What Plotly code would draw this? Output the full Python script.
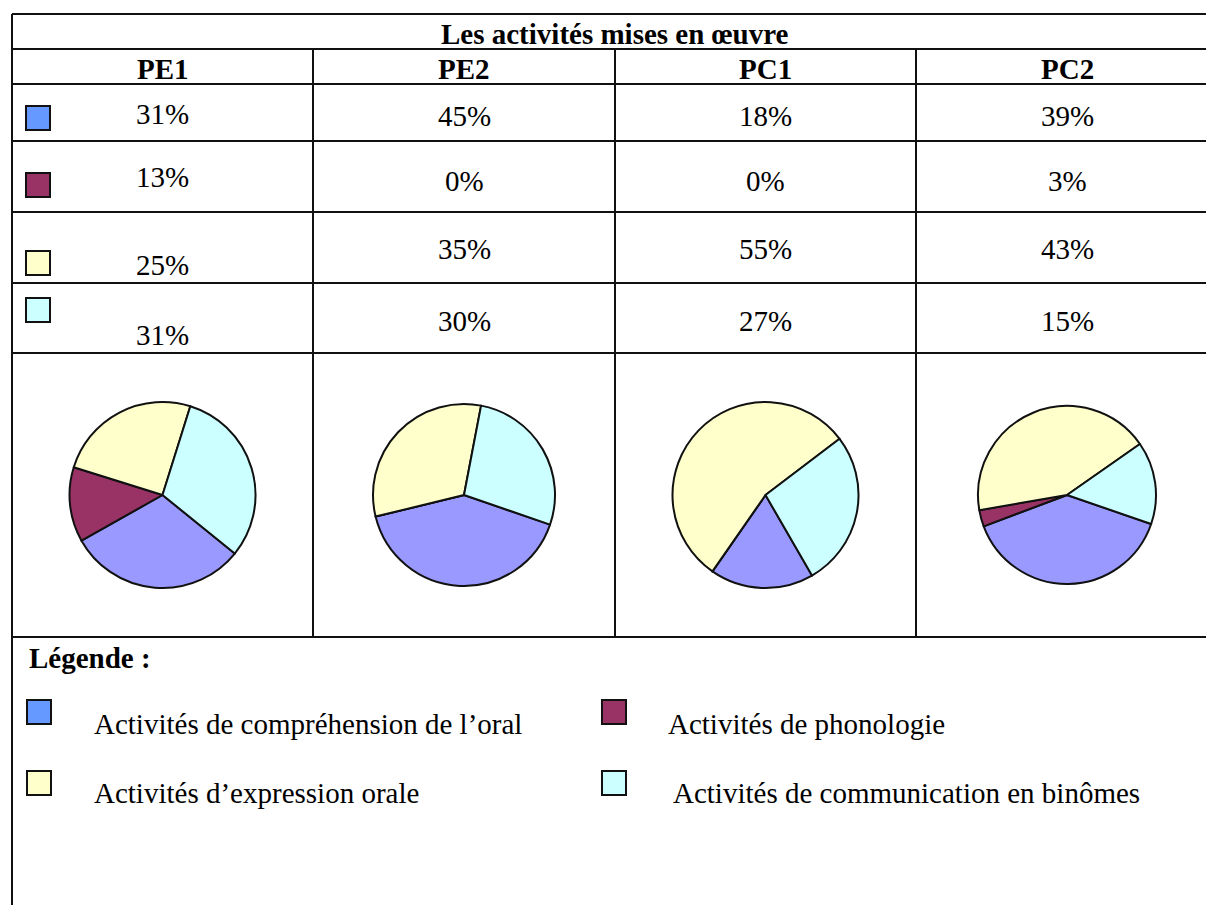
import plotly.graph_objects as go

GROUPS = ["PE1", "PE2", "PC1", "PC2"]
ACTIVITIES = [
    "Activités de compréhension de l’oral",
    "Activités de phonologie",
    "Activités d’expression orale",
    "Activités de communication en binômes",
]
COMPREHENSION = [31, 45, 18, 39]
PHONOLOGIE = [13, 0, 0, 3]
EXPRESSION = [25, 35, 55, 43]
COMMUNICATION = [31, 30, 27, 15]

TITLE = "Les activités mises en œuvre"
LEGEND_TITLE = "Légende :"

# styling
W, H = 1206, 905
FONT = "Liberation Serif, Times New Roman, serif"
FONT_SIZE = 29
SWATCH = ["#6699FF", "#993366", "#FFFFCC", "#CCFFFF"]
PIE_COLORS = ["#9999FF", "#993366", "#FFFFCC", "#CCFFFF"]
LINE = "#111111"

COL_X = [12, 313, 615, 916, 1218]
ROW_Y = [14, 49, 84, 141, 212, 283, 353, 637]
# vertical position of the percentage text, per row: first column / others
TEXT_Y = [(114, 116), (177, 181), (265, 249), (335, 321)]
SWATCH_Y = [106, 173, 251, 298]
PIE_CENTER_Y = 495
PIE_RADIUS = [93, 91, 93, 89]
PIE_ROTATION = [129, 109, 150, 109]


def px_x(x):
    return x / W


def px_y(y):
    return 1 - y / H


fig = go.Figure()

series = [COMPREHENSION, PHONOLOGIE, EXPRESSION, COMMUNICATION]

for i, group in enumerate(GROUPS):
    values = [s[i] for s in series]
    cx = (COL_X[i] + COL_X[i + 1]) / 2
    r = PIE_RADIUS[i]
    fig.add_trace(
        go.Pie(
            labels=ACTIVITIES,
            values=values,
            sort=False,
            direction="clockwise",
            rotation=PIE_ROTATION[i],
            textinfo="none",
            hoverinfo="label+percent",
            marker={"colors": PIE_COLORS, "line": {"color": LINE, "width": 2}},
            domain={
                "x": [px_x(cx - r), px_x(cx + r)],
                "y": [px_y(PIE_CENTER_Y + r), px_y(PIE_CENTER_Y - r)],
            },
            showlegend=False,
            name=group,
        )
    )

shapes = []
annotations = []


def hline(y, x0, x1):
    shapes.append(dict(type="line", xref="paper", yref="paper",
                       x0=px_x(x0), x1=px_x(x1), y0=px_y(y), y1=px_y(y),
                       line={"color": LINE, "width": 2}))


def vline(x, y0, y1):
    shapes.append(dict(type="line", xref="paper", yref="paper",
                       x0=px_x(x), x1=px_x(x), y0=px_y(y0), y1=px_y(y1),
                       line={"color": LINE, "width": 2}))


def text(x, y, s, bold=False, xanchor="center"):
    annotations.append(
        dict(
            x=px_x(x), y=px_y(y), xref="paper", yref="paper",
            text=f"<b>{s}</b>" if bold else s,
            showarrow=False, xanchor=xanchor, yanchor="middle",
            font={"family": FONT, "size": FONT_SIZE, "color": "#000000"},
        )
    )


def swatch(x, y, color, size=24):
    shapes.append(
        dict(type="rect", xref="paper", yref="paper",
             x0=px_x(x), x1=px_x(x + size), y0=px_y(y), y1=px_y(y + size),
             fillcolor=color, line={"color": LINE, "width": 2})
    )


# table grid
for y in ROW_Y:
    hline(y, COL_X[0], COL_X[-1])
vline(COL_X[0], ROW_Y[0], H + 5)
vline(COL_X[-1], ROW_Y[0], H + 5)
for x in COL_X[1:-1]:
    vline(x, ROW_Y[1], ROW_Y[-1])

text((COL_X[0] + COL_X[-1]) / 2, 34, TITLE, bold=True)
for i, group in enumerate(GROUPS):
    cx = (COL_X[i] + COL_X[i + 1]) / 2
    text(cx, 69, group, bold=True)
    for row, s in enumerate(series):
        ty = TEXT_Y[row][0] if i == 0 else TEXT_Y[row][1]
        text(cx, ty, f"{s[i]}%")

for row in range(4):
    swatch(26, SWATCH_Y[row], SWATCH[row])

# legend below the table
text(27, 658, LEGEND_TITLE, bold=True, xanchor="left")
legend_pos = [(27, 92, 700, 724), (602, 666, 700, 724), (27, 92, 771, 793), (602, 671, 771, 793)]
for k, label in enumerate(ACTIVITIES):
    sx, tx, sy, ty = legend_pos[k]
    swatch(sx, sy, SWATCH[k])
    text(tx, ty, label, xanchor="left")

fig.update_layout(
    width=W,
    height=H,
    margin={"l": 0, "r": 0, "t": 0, "b": 0},
    paper_bgcolor="white",
    plot_bgcolor="white",
    shapes=shapes,
    annotations=annotations,
    showlegend=False,
)

fig.write_html(
    "out.html",
    config={"displayModeBar": False},
    post_script="document.body.style.margin = '0';",
)
